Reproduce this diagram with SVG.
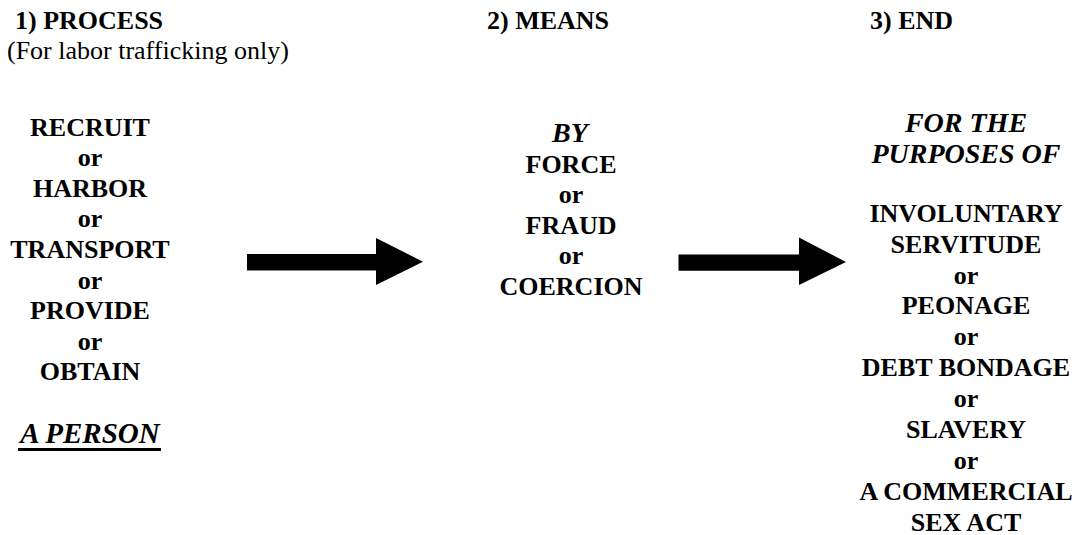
<svg xmlns="http://www.w3.org/2000/svg" width="1080" height="535" viewBox="0 0 1080 535">
<style>
text{font-family:'Liberation Serif','Times New Roman',serif;font-size:26px;fill:#000}
.b{font-weight:bold}
.bi{font-weight:bold;font-style:italic;font-size:28px}
.c{text-anchor:middle}
.arrow{fill:#000;stroke:none}
</style>
<rect width="1080" height="535" fill="#fff"/>
<g id="headers">
<text class="b" x="15" y="28.5">1) PROCESS</text>
<text x="7" y="59">(For labor trafficking only)</text>
<text class="b" x="487" y="28.5">2) MEANS</text>
<text class="b" x="870" y="28.5">3) END</text>
</g>
<g id="process">
<text class="b c" x="90" y="135.5">RECRUIT</text>
<text class="b c" x="90" y="166.1">or</text>
<text class="b c" x="90" y="196.7">HARBOR</text>
<text class="b c" x="90" y="227.3">or</text>
<text class="b c" x="90" y="257.9">TRANSPORT</text>
<text class="b c" x="90" y="288.5">or</text>
<text class="b c" x="90" y="319.1">PROVIDE</text>
<text class="b c" x="90" y="349.7">or</text>
<text class="b c" x="90" y="380.3">OBTAIN</text>
<text class="bi c" x="90" y="443" style="font-size:29px">A PERSON</text>
<rect x="18" y="448" width="143" height="3" fill="#000"/>
</g>
<g id="means">
<text class="bi c" x="570" y="142">BY</text>
<text class="b c" x="571" y="172.5">FORCE</text>
<text class="b c" x="571" y="203">or</text>
<text class="b c" x="571" y="233.5">FRAUD</text>
<text class="b c" x="571" y="264">or</text>
<text class="b c" x="571" y="294.5">COERCION</text>
</g>
<g id="end">
<text class="bi c" x="966" y="131.7">FOR THE</text>
<text class="bi c" x="966" y="163">PURPOSES OF</text>
<text class="b c" x="966" y="221.7">INVOLUNTARY</text>
<text class="b c" x="966" y="252.6">SERVITUDE</text>
<text class="b c" x="966" y="283.5">or</text>
<text class="b c" x="966" y="314.4">PEONAGE</text>
<text class="b c" x="966" y="345.3">or</text>
<text class="b c" x="966" y="376.2">DEBT BONDAGE</text>
<text class="b c" x="966" y="407.1">or</text>
<text class="b c" x="966" y="438">SLAVERY</text>
<text class="b c" x="966" y="468.9">or</text>
<text class="b c" x="966" y="499.8">A COMMERCIAL</text>
<text class="b c" x="966" y="530.7">SEX ACT</text>
</g>
<g id="connectors">
<polygon class="arrow" points="247,254 376,254 376,238 423,261.7 376,285 376,270.5 247,270.5"/>
<polygon class="arrow" points="678.5,254.5 799,254.5 799,237.5 846,262 799,285 799,270.7 678.5,270.7"/>
</g>
</svg>
